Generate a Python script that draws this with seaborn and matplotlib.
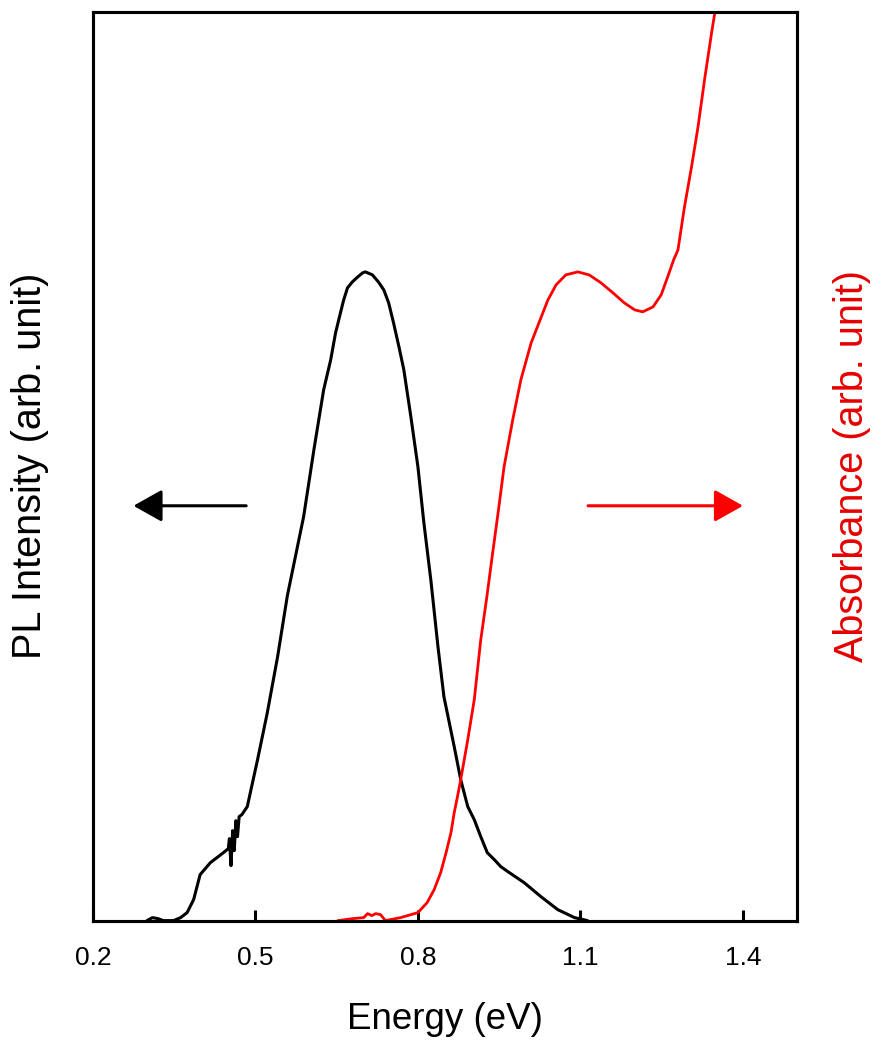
import numpy as np
import pandas as pd
import matplotlib
matplotlib.use("Agg")
import matplotlib.pyplot as plt
import seaborn as sns

# PL spectrum (black, left axis)
pl_energy = [0.300, 0.310, 0.320, 0.330, 0.349, 0.362, 0.374, 0.386, 0.398, 0.417,
             0.441, 0.450, 0.452, 0.455, 0.458, 0.461, 0.464, 0.467, 0.470, 0.475,
             0.485, 0.504, 0.522, 0.541, 0.559, 0.589, 0.608, 0.626, 0.639, 0.648,
             0.657, 0.663, 0.670, 0.679, 0.689, 0.698, 0.703, 0.716, 0.727, 0.737,
             0.746, 0.755, 0.765, 0.774, 0.787, 0.800, 0.811, 0.824, 0.837, 0.848,
             0.867, 0.879, 0.892, 0.904, 0.916, 0.928, 0.941, 0.953, 0.966, 0.996,
             1.027, 1.058, 1.089, 1.113]
pl_intensity = [0, 3, 2, 0, 0, 3, 8, 21, 46, 58,
                68, 72, 82, 55, 90, 70, 100, 84, 104, 106,
                114, 161, 208, 264, 325, 404, 471, 531, 561, 588,
                608, 621, 633, 639, 644, 648, 649, 646, 639, 631,
                618, 598, 574, 551, 504, 454, 398, 340, 274, 224,
                174, 141, 114, 101, 84, 68, 61, 54, 49, 38,
                24, 11, 3, 0]

# Absorbance spectrum (red, right axis)
abs_energy = [0.652, 0.680, 0.700, 0.707, 0.715, 0.722, 0.731, 0.740, 0.768, 0.800,
              0.817, 0.830, 0.842, 0.852, 0.861, 0.867, 0.873, 0.879, 0.892, 0.904,
              0.916, 0.927, 0.938, 0.948, 0.959, 0.975, 0.990, 1.009, 1.027, 1.040,
              1.055, 1.073, 1.095, 1.116, 1.138, 1.160, 1.181, 1.200, 1.215, 1.234,
              1.249, 1.261, 1.272, 1.280, 1.292, 1.305, 1.317, 1.329, 1.342, 1.350]
abs_value = [0, 2, 3, 7, 5, 7, 6, 0, 3, 8,
             18, 31, 48, 68, 88, 108, 124, 141, 181, 221,
             281, 323, 368, 408, 454, 501, 541, 578, 603, 621,
             636, 646, 649, 646, 638, 628, 618, 611, 609, 614,
             626, 644, 661, 671, 714, 754, 794, 841, 888, 915]

x_ticks = [0.2, 0.5, 0.8, 1.1, 1.4]

sns.set_style("white")
plt.rcParams['font.family'] = ['Liberation Sans', 'DejaVu Sans']
plt.rcParams['text.color'] = 'black'
plt.rcParams['axes.labelcolor'] = 'black'

fig = plt.figure(figsize=(8.76, 10.42), dpi=100)
ax = fig.add_axes([0.106, 0.1165, 0.804, 0.872])
ax2 = ax.twinx()

pl_df = pd.DataFrame({"energy": pl_energy, "intensity": pl_intensity})
abs_df = pd.DataFrame({"energy": abs_energy, "absorbance": abs_value})

sns.lineplot(data=pl_df, x="energy", y="intensity", ax=ax, color="black",
             linewidth=2.2, estimator=None, sort=False)
sns.lineplot(data=abs_df, x="energy", y="absorbance", ax=ax2, color="#ff0000",
             linewidth=2.0, estimator=None, sort=False)

for a in (ax, ax2):
    a.set_xlim(0.2, 1.5)
    a.set_ylim(0, 909)
    a.set_yticks([])
    for s in a.spines.values():
        s.set_visible(True)
        s.set_color("black")
        s.set_linewidth(2.2)

ax.set_xticks(x_ticks)
ax.set_xticklabels([f"{t:.1f}" for t in x_ticks])
ax.tick_params(axis="x", direction="in", length=8, width=2.2, labelsize=19,
               pad=18, bottom=True, colors="black")
ax2.tick_params(axis="x", bottom=False, top=False)

ax.set_xlabel("Energy (eV)", fontsize=26.5, va="center", ha="center")
ax.set_ylabel("PL Intensity (arb. unit)", fontsize=28.5, va="center", ha="center")
ax2.set_ylabel("Absorbance (arb. unit)", fontsize=28.5, color="#e60000",
               rotation=90, va="center", ha="center")
ax.xaxis.set_label_coords(0.5, -0.109)
ax.yaxis.set_label_coords(-0.089, 0.5)
ax2.yaxis.set_label_coords(1.078, 0.5)

# direction arrows
ax.annotate("", xy=(0.275, 415), xytext=(0.483, 415),
            arrowprops=dict(arrowstyle="-|>,head_length=0.8,head_width=0.45",
                            color="black", lw=2.2, mutation_scale=22,
                            shrinkA=0, shrinkB=0))
ax2.annotate("", xy=(1.400, 415), xytext=(1.114, 415),
             arrowprops=dict(arrowstyle="-|>,head_length=0.8,head_width=0.45",
                             color="#ff0000", lw=2.2, mutation_scale=22,
                             shrinkA=0, shrinkB=0))

fig.savefig("out.png", dpi=100)
